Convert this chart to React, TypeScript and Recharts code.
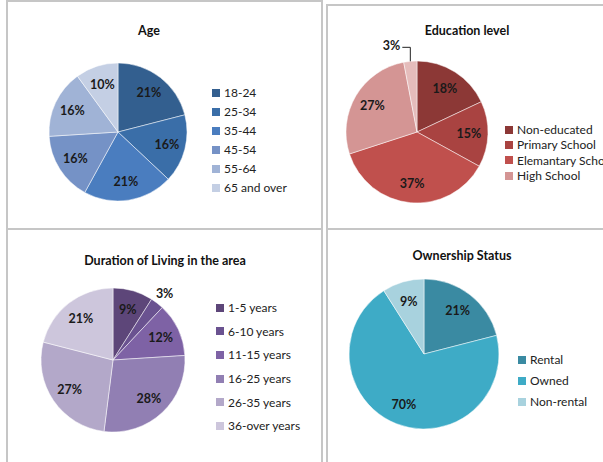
import React from 'react';
import { PieChart, Pie, Cell, Legend } from 'recharts';

// Survey breakdowns, clockwise from 12 o'clock
const ageGroups = ['18-24', '25-34', '35-44', '45-54', '55-64', '65 and over'];
const agePct = [21, 16, 21, 16, 16, 10];
const ageColors = ['#335f8f', '#3a6ea8', '#4a7dbf', '#7592c6', '#a0b3d6', '#c4cfe4'];

const eduLevels = ['Non-educated', 'Primary School', 'Elemantary School', 'High School', 'University'];
const eduPct = [18, 15, 37, 27, 3];
const eduColors = ['#8c3836', '#a94341', '#c0504d', '#d49594', '#e5bcbb'];

const durationGroups = ['1-5 years', '6-10 years', '11-15 years', '16-25 years', '26-35 years', '36-over years'];
const durationPct = [9, 3, 12, 28, 27, 21];
const durationColors = ['#5d4679', '#6a5290', '#7e62a5', '#917fb3', '#b3a8c9', '#cdc6dc'];

const ownershipTypes = ['Rental', 'Owned', 'Non-rental'];
const ownershipPct = [21, 70, 9];
const ownershipColors = ['#3a8aa2', '#3eabc6', '#a8d2de'];

const FONT = 'Lato, "Open Sans", sans-serif';
const RAD = Math.PI / 180;

const toRows = (names: string[], values: number[]) =>
  names.map((name, i) => ({ name, value: values[i] }));

// label at a fraction of the radius along the slice's mid angle
const makeLabel =
  (outside: number[] = [], leader: number[] = []) =>
  (props: any) => {
    const { cx, cy, midAngle, outerRadius, value, index } = props;
    const cos = Math.cos(-midAngle * RAD);
    const sin = Math.sin(-midAngle * RAD);
    const txtStyle = { fontFamily: FONT, fontSize: 12.5, fontWeight: 700, fill: '#1a1a1a' };
    if (leader.includes(index)) {
      const ex = cx + outerRadius * cos;
      const ey = cy + outerRadius * sin;
      const ty = ey - 14;
      return (
        <g>
          <path d={`M${ex},${ey} L${ex},${ty} L${ex - 8},${ty}`} stroke="#222" strokeWidth={1} fill="none" />
          <text x={ex - 10} y={ty - 2} textAnchor="end" dominantBaseline="central" style={txtStyle}>
            {`${value}%`}
          </text>
        </g>
      );
    }
    const k = outside.includes(index) ? 1.17 : 0.73;
    return (
      <text
        x={cx + outerRadius * k * cos}
        y={cy + outerRadius * k * sin}
        textAnchor="middle"
        dominantBaseline="central"
        style={txtStyle}
      >
        {`${value}%`}
      </text>
    );
  };

// legend rows kept in data order
const makeLegend = (names: string[], rowHeight: number, count?: number) => (props: any) => {
  const items = [...(props.payload || [])]
    .sort((a: any, b: any) => names.indexOf(a.value) - names.indexOf(b.value))
    .slice(0, count ?? names.length);
  return (
    <div style={{ fontFamily: FONT, fontSize: 12, color: '#222' }}>
      {items.map((p: any) => (
        <div key={p.value} style={{ display: 'flex', alignItems: 'center', height: rowHeight, whiteSpace: 'nowrap' }}>
          <span style={{ width: 8, height: 8, background: p.color, marginRight: 4, display: 'inline-block' }} />
          {p.value}
        </div>
      ))}
    </div>
  );
};

interface PanelProps {
  title: string;
  left: number;
  top: number;
  width: number;
  height: number;
  titleX: number;
  titleY: number;
  names: string[];
  values: number[];
  colors: string[];
  cx: number;
  cy: number;
  r: number;
  legendX: number;
  legendY: number;
  rowHeight: number;
  legendCount?: number;
  outside?: number[];
  leader?: number[];
}

const Panel: React.FC<PanelProps> = (p) => {
  const rows = toRows(p.names, p.values);
  return (
    <div
      style={{
        position: 'absolute',
        left: p.left,
        top: p.top,
        width: p.width,
        height: p.height,
        border: '2px solid #c6c6c6',
        boxSizing: 'border-box',
        background: '#fff',
      }}
    >
      <div
        style={{
          position: 'absolute',
          left: p.titleX - 150,
          width: 300,
          top: p.titleY - 9,
          textAlign: 'center',
          fontFamily: FONT,
          fontSize: 12.5,
          fontWeight: 700,
          color: '#111',
        }}
      >
        {p.title}
      </div>
      <div style={{ position: 'absolute', left: -2, top: -2 }}>
        <PieChart width={p.width} height={p.height} margin={{ top: 0, right: 0, bottom: 0, left: 0 }}>
          <Pie
            data={rows}
            dataKey="value"
            nameKey="name"
            cx={p.cx}
            cy={p.cy}
            outerRadius={p.r}
            startAngle={90}
            endAngle={-270}
            stroke="#ffffff"
            strokeWidth={0.5}
            label={makeLabel(p.outside, p.leader)}
            labelLine={false}
            isAnimationActive={false}
          >
            {rows.map((row, i) => (
              <Cell key={row.name} fill={p.colors[i]} />
            ))}
          </Pie>
          <Legend
            layout="vertical"
            content={makeLegend(p.names, p.rowHeight, p.legendCount)}
            wrapperStyle={{ left: p.legendX, top: p.legendY, width: 'auto' }}
          />
        </PieChart>
      </div>
    </div>
  );
};

export default function App() {
  return (
    <div
      style={{
        position: 'absolute',
        left: 0,
        top: 0,
        width: 603,
        height: 462,
        overflow: 'hidden',
        background: '#fff',
      }}
    >
      <Panel
        title="Age"
        left={6}
        top={0}
        width={317}
        height={230}
        titleX={141}
        titleY={30}
        names={ageGroups}
        values={agePct}
        colors={ageColors}
        cx={112}
        cy={132}
        r={69}
        legendX={206}
        legendY={83}
        rowHeight={19}
      />
      <Panel
        title="Education level"
        left={326}
        top={4}
        width={300}
        height={226}
        titleX={139}
        titleY={26}
        names={eduLevels}
        values={eduPct}
        colors={eduColors}
        cx={91}
        cy={128}
        r={71}
        legendX={179}
        legendY={118}
        rowHeight={15.3}
        legendCount={4}
        leader={[4]}
      />
      <Panel
        title="Duration of Living in the area"
        left={6}
        top={228}
        width={317}
        height={240}
        titleX={157}
        titleY={32}
        names={durationGroups}
        values={durationPct}
        colors={durationColors}
        cx={107}
        cy={132}
        r={72}
        legendX={210}
        legendY={68}
        rowHeight={23.6}
        outside={[1]}
      />
      <Panel
        title="Ownership Status"
        left={326}
        top={228}
        width={300}
        height={240}
        titleX={134}
        titleY={27}
        names={ownershipTypes}
        values={ownershipPct}
        colors={ownershipColors}
        cx={98}
        cy={126}
        r={75}
        legendX={192}
        legendY={121}
        rowHeight={21}
      />
    </div>
  );
}
